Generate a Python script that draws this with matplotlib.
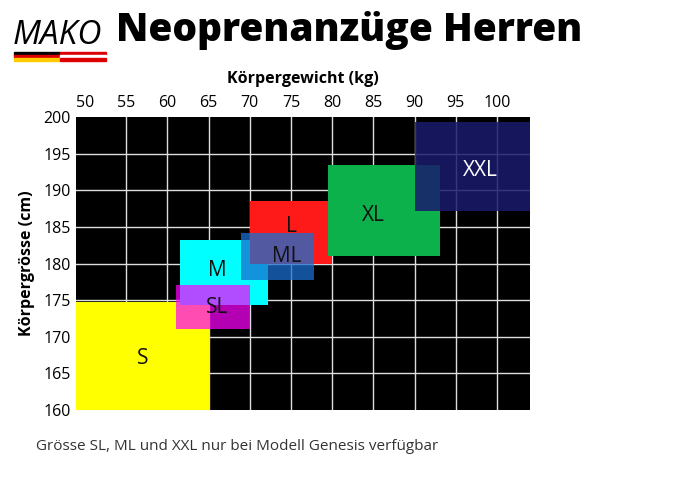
import matplotlib
matplotlib.use("Agg")
import matplotlib.pyplot as plt
from matplotlib.patches import Rectangle

plt.rcParams['font.family'] = ['Open Sans', 'DejaVu Sans']

sizes = ["S", "M", "SL", "L", "ML", "XL", "XXL"]
w_min = [48.9, 61.5, 61.0, 70.0, 68.9, 79.5, 90.0]
w_max = [65.0, 72.2, 70.0, 80.0, 77.8, 93.1, 104.0]
h_min = [160.0, 174.3, 171.1, 180.0, 177.8, 181.0, 187.2]
h_max = [174.8, 183.2, 177.1, 188.6, 184.1, 193.4, 199.3]
colors = ["#ffff00", "#00ffff", "#ff00ff", "#ff1a1a", "#1a6fd0", "#0db14b", "#1a1a6e"]
alphas = [1.0, 1.0, 0.7, 1.0, 0.75, 1.0, 0.85]
label_x = [57, 66, 66, 75, 74.5, 85, 98]
label_y = [167, 179, 174, 185, 181, 186.5, 192.7]
label_col = ["#111", "#111", "#111", "#111", "#111", "#111", "white"]
x_ticks = [50, 55, 60, 65, 70, 75, 80, 85, 90, 95, 100]
y_ticks = [160, 165, 170, 175, 180, 185, 190, 195, 200]

fig = plt.figure(figsize=(7.0, 4.97), dpi=100)
ax = fig.add_axes([76/700, 1-410/497, 454/700, 293/497])
ax.set_facecolor("black")
ax.set_xlim(48.9, 104)
ax.set_ylim(160, 199.5)
for x in x_ticks[1:]:
    ax.axvline(x, color="#dddddd", lw=1, zorder=1)
for y in y_ticks[1:-1]:
    ax.axhline(y, color="#dddddd", lw=1, zorder=1)
for i, s in enumerate(sizes):
    ax.add_patch(Rectangle((w_min[i], h_min[i]), w_max[i]-w_min[i], h_max[i]-h_min[i],
                           facecolor=colors[i], alpha=alphas[i], lw=0, zorder=2+i))
    ax.text(label_x[i], label_y[i], s, ha="center", va="center", fontsize=15,
            color=label_col[i], zorder=20)
ax.xaxis.tick_top()
ax.xaxis.set_label_position("top")
ax.set_xticks(x_ticks)
ax.set_yticks(y_ticks)
ax.tick_params(length=0, labelsize=11.5, pad=4)
ax.set_xlabel("Körpergewicht (kg)", fontweight="bold", fontsize=11.5, labelpad=9)
ax.set_ylabel("Körpergrösse (cm)", fontweight="bold", fontsize=11.5, labelpad=6)
for sp in ax.spines.values():
    sp.set_visible(False)

# logo
fig.text(13/700, 1-36/497, "MAKO", fontsize=24, color="black", va="center", ha="left",
         fontstyle="italic")
for c, y0 in [("black", 52), ("#dd0000", 55), ("#ffcc00", 58)]:
    fig.add_artist(Rectangle((14/700, 1-(y0+3)/497), 46/700, 3/497, color=c, transform=fig.transFigure))
for c, y0 in [("#dd0000", 52), ("white", 55), ("#dd0000", 58)]:
    fig.add_artist(Rectangle((60/700, 1-(y0+3)/497), 46/700, 3/497, color=c, transform=fig.transFigure))

fig.text(116/700, 1-31/497, "Neoprenanzüge Herren", fontsize=28, fontweight="heavy",
         va="center", ha="left")
fig.text(36/700, 1-446/497, "Grösse SL, ML und XXL nur bei Modell Genesis verfügbar",
         fontsize=11, color="#333333", va="center", ha="left")
fig.savefig("out.png", dpi=100)
